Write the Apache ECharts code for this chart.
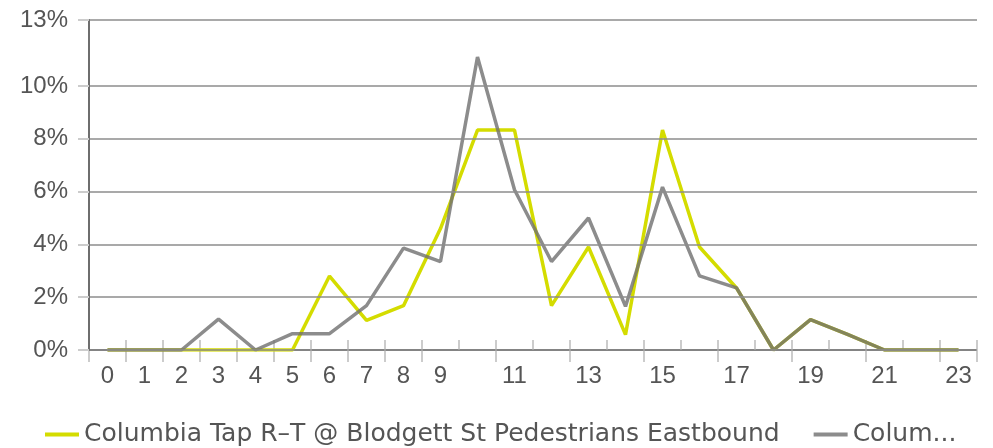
<!DOCTYPE html>
<html>
<head>
<meta charset="utf-8">
<script src="https://cdn.jsdelivr.net/npm/echarts@6/dist/echarts.min.js"></script>
<style>
  html, body { margin: 0; padding: 0; background: #fff; }
  #chart { width: 993px; height: 448px; }
</style>
</head>
<body>
<div id="chart"></div>
<script>
// hours of day
var hours = ['0', '1', '2', '3', '4', '5', '6', '7', '8', '9', '10', '11',
             '12', '13', '14', '15', '16', '17', '18', '19', '20', '21', '22', '23'];

// share of daily volume per hour, in percent
var eastbound = [0, 0, 0, 0, 0, 0, 2.8, 1.12, 1.68, 4.6, 8.33, 8.33,
                 1.68, 3.9, 0.58, 8.33, 3.9, 2.35, 0, 1.15, 0.59, 0, 0, 0];
var westbound = [0, 0, 0, 1.17, 0, 0.62, 0.62, 1.68, 3.86, 3.35, 11.1, 6.07,
                 3.35, 5.0, 1.65, 6.17, 2.81, 2.35, 0, 1.15, 0.59, 0, 0, 0];

var seriesNames = ['Columbia Tap R\u2013T @ Blodgett St Pedestrians Eastbound',
                   'Columbia Tap R\u2013T @ Blodgett St Pedestrians Westbound'];

// y ticks as drawn (top one is the axis max, labelled rounded)
var yTicks = [0, 2, 4, 6, 8, 10, 12.5];

var myChart = echarts.init(document.getElementById('chart'));

var font = 'Liberation Sans';

var option = {
    animation: false,
    grid: {
        left: 89,
        right: 16,
        top: 20,
        bottom: 98
    },
    legend: {
        left: 40,
        top: 417,
        icon: 'rect',
        itemWidth: 34,
        itemHeight: 4,
        itemGap: 34,
        textStyle: { fontFamily: 'DejaVu Sans', fontSize: 25, color: '#555' },
        data: [
            { name: seriesNames[0] },
            { name: seriesNames[1], textStyle: { width: 112, overflow: 'truncate', ellipsis: '...' } }
        ]
    },
    xAxis: [{
        type: 'category',
        data: hours,
        boundaryGap: true,
        axisLine: { lineStyle: { color: '#6e6e6e', width: 2 } },
        axisTick: { show: true, length: 12, lineStyle: { color: '#cccccc', width: 2 } },
        axisLabel: {
            margin: 14,
            fontFamily: font,
            fontSize: 24,
            color: '#555',
            interval: function(index) { return index <= 9 || index % 2 === 1; }
        },
        splitLine: { show: false }
    }, {
        type: 'category',
        data: hours,
        position: 'bottom',
        boundaryGap: true,
        axisLine: { show: false },
        axisTick: { show: true, inside: true, length: 10, lineStyle: { color: '#cccccc', width: 2 } },
        axisLabel: { show: false },
        splitLine: { show: false }
    }],
    yAxis: {
        type: 'value',
        min: 0,
        max: 12.5,
        z: 5,
        axisLine: { show: true, lineStyle: { color: '#6e6e6e', width: 2 } },
        axisTick: { show: true, length: 11, customValues: yTicks, lineStyle: { color: '#cccccc', width: 2 } },
        axisLabel: {
            margin: 21,
            fontFamily: font,
            fontSize: 24,
            color: '#555',
            customValues: yTicks,
            formatter: function(v) { return Math.round(v) + '%'; }
        },
        splitLine: { show: true, lineStyle: { color: '#8c8c8c', width: 1.5 } }
    },
    series: [{
        name: seriesNames[0],
        type: 'line',
        data: eastbound,
        symbol: 'none',
        lineStyle: { color: '#d4dc00', width: 3.5 },
        itemStyle: { color: '#d4dc00' }
    }, {
        name: seriesNames[1],
        type: 'line',
        data: westbound,
        symbol: 'none',
        lineStyle: { color: '#6f6f6f', width: 3.5, opacity: 0.8 },
        itemStyle: { color: '#8c8c8c' }
    }]
};

myChart.setOption(option);
</script>
</body>
</html>
